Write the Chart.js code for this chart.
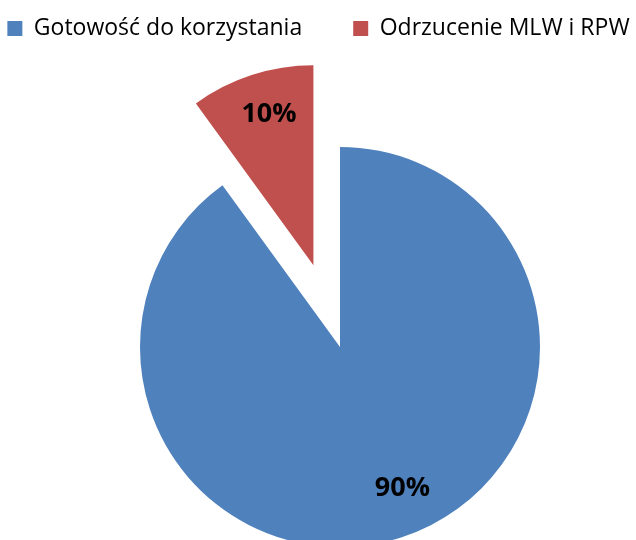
<!DOCTYPE html>
<html>
<head>
<meta charset="utf-8">
<script src="https://cdn.jsdelivr.net/npm/chart.js@4"></script>
<style>
  html, body { margin: 0; padding: 0; background: #fff; overflow: hidden; }
  #wrap { width: 636px; height: 540px; }
</style>
</head>
<body>
<div id="wrap"><canvas id="mycanvas"></canvas></div>
<script>
const labels = ['Gotowość do korzystania', 'Odrzucenie MLW i RPW'];
const values = [90, 10];
const colors = ['#4F81BD', '#C0504D'];

// where the pie sits and how far each slice is pulled out
const PIE_X = 340;
const PIE_Y = 347;
const PIE_R = 200;
const EXPLODE = [0, 86];

// put the plot area around the pie centre (legend keeps its own box)
// and pull the exploded slice out along its middle angle
const piePlacement = {
  id: 'piePlacement',
  afterLayout(chart) {
    chart.chartArea = {
      left: PIE_X - PIE_R,
      right: PIE_X + PIE_R,
      top: PIE_Y - PIE_R,
      bottom: PIE_Y + PIE_R,
      width: PIE_R * 2,
      height: PIE_R * 2
    };
  },
  afterUpdate(chart) {
    chart.getDatasetMeta(0).data.forEach((arc, i) => {
      const d = EXPLODE[i] || 0;
      if (!d) return;
      const mid = (arc.startAngle + arc.endAngle) / 2;
      arc.x += Math.cos(mid) * d;
      arc.y += Math.sin(mid) * d;
    });
  }
};

// percentage labels inside each slice
const sliceLabels = {
  id: 'sliceLabels',
  afterDatasetsDraw(chart, args, opts) {
    const ctx = chart.ctx;
    const data = chart.data.datasets[0].data;
    const total = data.reduce((a, b) => a + b, 0);
    const size = opts.size;
    ctx.save();
    ctx.font = 'bold ' + size + 'px "Open Sans"';
    ctx.fillStyle = '#000';
    ctx.textAlign = 'center';
    ctx.textBaseline = 'alphabetic';
    chart.getDatasetMeta(0).data.forEach((arc, i) => {
      const mid = (arc.startAngle + arc.endAngle) / 2;
      const r = arc.outerRadius * opts.at;
      const nudge = opts.nudge[i] || [0, 0];
      const txt = Math.round(data[i] / total * 100) + '%';
      const x = arc.x + Math.cos(mid) * r + nudge[0];
      const y = arc.y + Math.sin(mid) * r + nudge[1];
      // baseline so that the digits are centred on y
      ctx.fillText(txt, x, y + size * 0.357);
    });
    ctx.restore();
  }
};

new Chart(document.getElementById('mycanvas'), {
  type: 'pie',
  data: {
    labels: labels,
    datasets: [{
      data: values,
      backgroundColor: colors,
      borderWidth: 0,
      clip: false
    }]
  },
  options: {
    responsive: true,
    maintainAspectRatio: false,
    animation: false,
    events: [],
    radius: PIE_R,
    // wide legend box so both items stay on one row
    layout: {
      padding: { top: -34, left: -52, right: -53 }
    },
    plugins: {
      tooltip: { enabled: false },
      legend: {
        display: true,
        position: 'top',
        labels: {
          color: '#000',
          boxWidth: 15,
          boxHeight: 15,
          padding: 51,
          font: { family: "'Open Sans'", size: 23 }
        }
      },
      sliceLabels: {
        size: 27,
        at: 0.8,
        nudge: [[13, -13], [5, -1]]
      }
    }
  },
  plugins: [piePlacement, sliceLabels]
});
</script>
</body>
</html>
